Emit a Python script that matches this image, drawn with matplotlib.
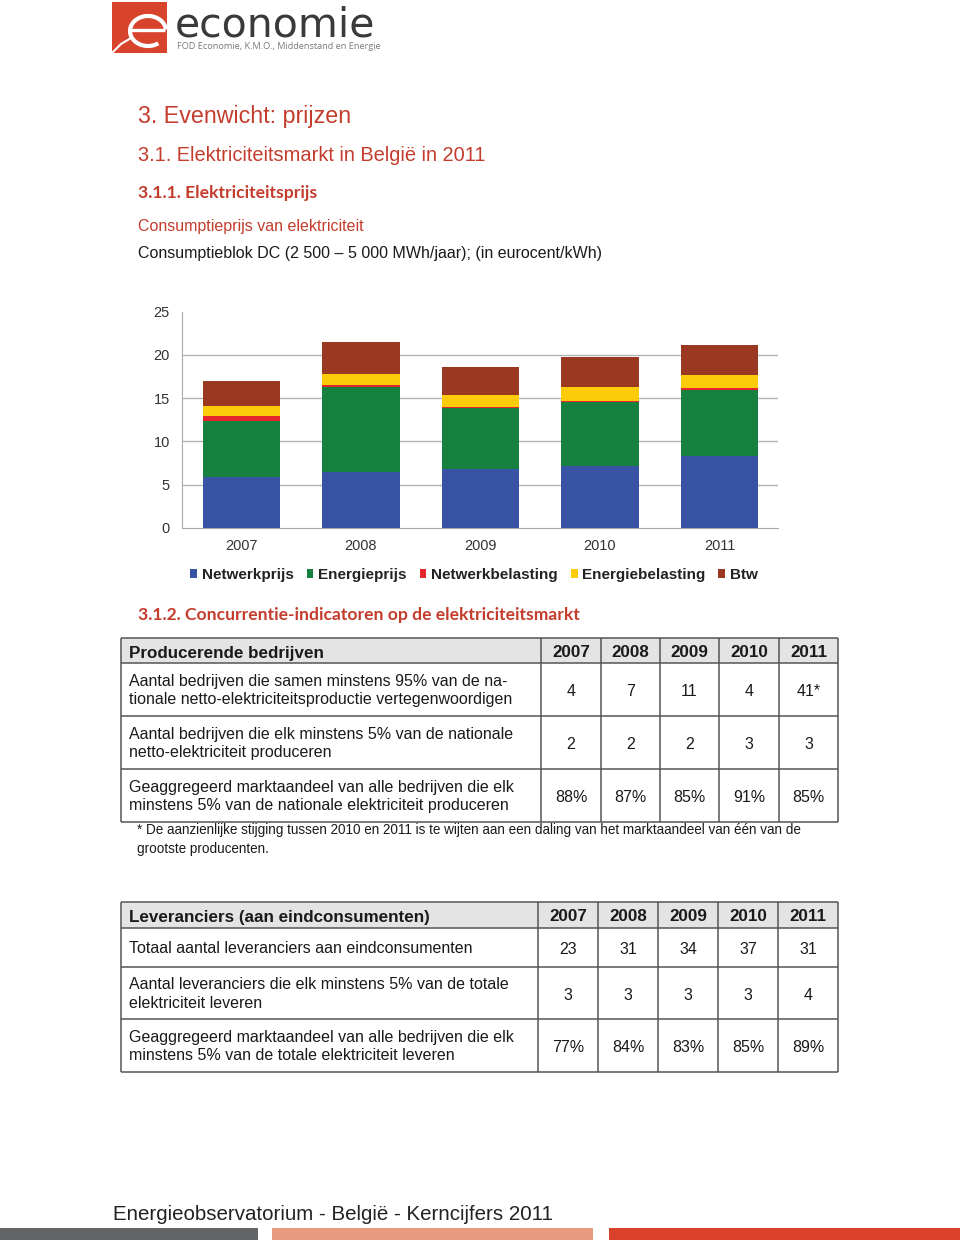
import matplotlib
matplotlib.use('Agg')
import matplotlib.pyplot as plt
from matplotlib import font_manager
from matplotlib.patches import Rectangle, Arc
import numpy as np

# ---------------- data ----------------
years = ['2007', '2008', '2009', '2010', '2011']
netwerkprijs = [5.85, 6.50, 6.81, 7.16, 8.32]
energieprijs = [6.55, 9.75, 7.04, 7.39, 7.66]
netwerkbelasting = [0.58, 0.31, 0.12, 0.15, 0.16]
energiebelasting = [1.15, 1.25, 1.43, 1.63, 1.51]
btw = [2.90, 3.72, 3.25, 3.41, 3.52]
series_names = ['Netwerkprijs', 'Energieprijs', 'Netwerkbelasting', 'Energiebelasting', 'Btw']
series_colors = ['#3953a4', '#16803f', '#e5262b', '#fccc0a', '#9b3822']
y_ticks = [0, 5, 10, 15, 20, 25]

prod_header = 'Producerende bedrijven'
prod_rows = ['Aantal bedrijven die samen minstens 95% van de na-\ntionale netto-elektriciteitsproductie vertegenwoordigen',
             'Aantal bedrijven die elk minstens 5% van de nationale\nnetto-elektriciteit produceren',
             'Geaggregeerd marktaandeel van alle bedrijven die elk\nminstens 5% van de nationale elektriciteit produceren']
prod_values = [['4', '7', '11', '4', '41*'],
               ['2', '2', '2', '3', '3'],
               ['88%', '87%', '85%', '91%', '85%']]
footnote = ['* De aanzienlijke stijging tussen 2010 en 2011 is te wijten aan een daling van het marktaandeel van één van de',
            'grootste producenten.']

lev_header = 'Leveranciers (aan eindconsumenten)'
lev_rows = ['Totaal aantal leveranciers aan eindconsumenten',
            'Aantal leveranciers die elk minstens 5% van de totale\nelektriciteit leveren',
            'Geaggregeerd marktaandeel van alle bedrijven die elk\nminstens 5% van de totale elektriciteit leveren']
lev_values = [['23', '31', '34', '37', '31'],
              ['3', '3', '3', '3', '4'],
              ['77%', '84%', '83%', '85%', '89%']]

# ---------------- fonts ----------------
avail = {f.name for f in font_manager.fontManager.ttflist}
SANS = 'Liberation Sans' if 'Liberation Sans' in avail else 'DejaVu Sans'
NARROW = 'Liberation Sans Narrow' if 'Liberation Sans Narrow' in avail else SANS
HUM = 'Lato' if 'Lato' in avail else SANS
LOGO = 'Open Sans' if 'Open Sans' in avail else SANS
plt.rcParams['font.family'] = [SANS, 'DejaVu Sans']

RED = '#c43c2c'
W, H = 960, 1249
fig = plt.figure(figsize=(W / 100, H / 100), dpi=100)
fig.patch.set_facecolor('white')

page = fig.add_axes([0, 0, 1, 1])
page.set_xlim(0, W)
page.set_ylim(H, 0)
page.axis('off')

def pt(px):
    return px * 0.72

# ---------------- logo ----------------
page.add_patch(Rectangle((112, 2), 55, 51, facecolor='#d8432c', edgecolor='none'))
page.add_patch(Arc((148, 31), 36, 30, theta1=50, theta2=355, color='white', lw=3.0))
page.plot([131, 165], [30, 30], color='white', lw=2.4, solid_capstyle='butt')
page.plot([113, 121, 131], [52, 44, 38], color='white', lw=1.5)
page.text(175, 36, 'economie', fontsize=pt(41), family='DejaVu Sans', color='#3a3a3a',
          va='baseline')
page.text(177, 49, 'FOD Economie, K.M.O., Middenstand en Energie', fontsize=pt(9.2),
          family=LOGO, color='#7a7a7a', va='baseline')

# ---------------- headings ----------------
page.text(138, 123, '3. Evenwicht: prijzen', fontsize=pt(23.3), color=RED, va='baseline')
page.text(138, 161, '3.1. Elektriciteitsmarkt in België in 2011', fontsize=pt(20), color=RED, va='baseline')
page.text(138, 198, '3.1.1. Elektriciteitsprijs', fontsize=pt(17.5), family=HUM, weight='bold',
          color=RED, va='baseline')
page.text(138, 231, 'Consumptieprijs van elektriciteit', fontsize=pt(16), color=RED, va='baseline')
page.text(138, 258, 'Consumptieblok DC (2 500 – 5 000 MWh/jaar); (in eurocent/kWh)', fontsize=pt(16),
          color='#1a1a1a', va='baseline')
page.text(138, 620, '3.1.2. Concurrentie-indicatoren op de elektriciteitsmarkt', fontsize=pt(17.5),
          family=HUM, weight='bold', color=RED, va='baseline')

# ---------------- chart ----------------
ax = fig.add_axes([181.7 / W, 1 - 527.7 / H, (778 - 181.7) / W, (527.7 - 311.8) / H])
x = np.arange(len(years))
bottom = np.zeros(len(years))
handles = []
for name, vals, col in zip(series_names,
                           [netwerkprijs, energieprijs, netwerkbelasting, energiebelasting, btw],
                           series_colors):
    b = ax.bar(x, vals, width=0.648, bottom=bottom, color=col, label=name, zorder=3)
    handles.append(b)
    bottom += np.array(vals)
ax.set_xlim(-0.5, 4.49)
ax.set_ylim(0, 25)
ax.set_yticks(y_ticks)
ax.set_yticklabels([str(t) for t in y_ticks])
ax.set_xticks(x)
ax.set_xticklabels(years)
for g in y_ticks[1:-1]:
    ax.axhline(g, color='#b4b4b4', lw=1.0, zorder=1)
for s in ['top', 'right']:
    ax.spines[s].set_visible(False)
ax.spines['left'].set_color('#a8a8a8')
ax.spines['bottom'].set_color('#a8a8a8')
ax.tick_params(axis='both', length=0, labelsize=pt(14.5), labelcolor='#333333')
ax.tick_params(axis='y', pad=pt(12))
ax.tick_params(axis='x', pad=pt(11))
ax.legend(handles=handles, loc='center', bbox_to_anchor=(474 / W, 1 - 575 / H),
          bbox_transform=fig.transFigure, ncol=5, frameon=False,
          prop={'family': SANS, 'weight': 'bold', 'size': pt(15.3)},
          handlelength=0.45, handleheight=0.45, handletextpad=0.3, columnspacing=0.85,
          labelcolor='#222222', borderpad=0)

# ---------------- tables ----------------
BORDER = '#555555'

def draw_table(xe, ye, header, rows, values):
    page.add_patch(Rectangle((xe[0], ye[0]), xe[-1] - xe[0], ye[1] - ye[0],
                             facecolor='#e4e4e4', edgecolor='none'))
    for yy in ye:
        page.plot([xe[0], xe[-1]], [yy, yy], color=BORDER, lw=1.1, solid_capstyle='butt')
    for xx in xe:
        page.plot([xx, xx], [ye[0], ye[-1]], color=BORDER, lw=1.1, solid_capstyle='butt')
    hy = (ye[0] + ye[1]) / 2 + 2.5
    page.text(xe[0] + 8, hy, header, fontsize=pt(17), weight='bold', color='#1a1a1a', va='center')
    for j, yr in enumerate(years):
        page.text((xe[j + 1] + xe[j + 2]) / 2, hy - 1, yr, fontsize=pt(17), weight='bold',
                  color='#1a1a1a', va='center', ha='center')
    for i, (label, vals) in enumerate(zip(rows, values)):
        cy = (ye[i + 1] + ye[i + 2]) / 2 + 1
        page.text(xe[0] + 8, cy, label, fontsize=pt(16), color='#1a1a1a', va='center',
                  linespacing=1.28)
        for j, v in enumerate(vals):
            page.text((xe[j + 1] + xe[j + 2]) / 2, cy + 1, v, fontsize=pt(16), color='#1a1a1a',
                      va='center', ha='center')

draw_table([121, 541, 601, 660, 719, 779, 838], [638, 663, 716, 769, 822],
           prod_header, prod_rows, prod_values)
page.text(137, 834, footnote[0], fontsize=pt(13.5), color='#1a1a1a', va='baseline')
page.text(137, 853, footnote[1], fontsize=pt(13.5), color='#1a1a1a', va='baseline')

draw_table([121, 538, 598, 658, 718, 778, 838], [902, 928, 967, 1019, 1072],
           lev_header, lev_rows, lev_values)

# ---------------- footer ----------------
page.text(113, 1220, 'Energieobservatorium - België - Kerncijfers 2011', fontsize=pt(20.5),
          family=NARROW, color='#222222', va='baseline')
page.add_patch(Rectangle((0, 1228), 258, 12, facecolor='#636466', edgecolor='none'))
page.add_patch(Rectangle((272, 1228), 321, 12, facecolor='#e99a7e', edgecolor='none'))
page.add_patch(Rectangle((609, 1228), 351, 12, facecolor='#d9412b', edgecolor='none'))

fig.savefig('out.png', dpi=100, facecolor='white')
